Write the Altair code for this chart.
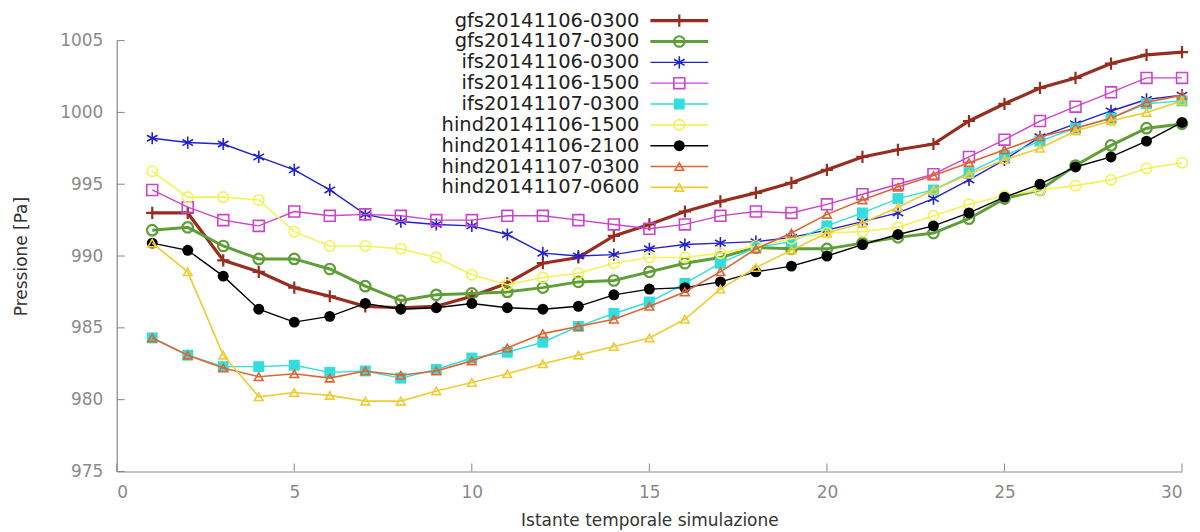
import altair as alt
import pandas as pd

# ---------------- data ----------------
steps = list(range(1, 31))

names = [
    "gfs20141106-0300", "gfs20141107-0300", "ifs20141106-0300",
    "ifs20141106-1500", "ifs20141107-0300", "hind20141106-1500",
    "hind20141106-2100", "hind20141107-0300", "hind20141107-0600",
]

gfs_1106_0300 = [993.0, 993.0, 989.7, 988.9, 987.8, 987.2, 986.5, 986.4, 986.5, 987.2,
                 988.1, 989.5, 989.9, 991.4, 992.2, 993.1, 993.8, 994.4, 995.1, 996.0,
                 996.9, 997.4, 997.8, 999.4, 1000.6, 1001.7, 1002.4, 1003.4, 1004.0, 1004.2]
gfs_1107_0300 = [991.8, 992.0, 990.7, 989.8, 989.8, 989.1, 987.9, 986.9, 987.3, 987.4,
                 987.5, 987.8, 988.2, 988.3, 988.9, 989.5, 989.9, 990.6, 990.5, 990.5,
                 990.9, 991.3, 991.6, 992.6, 994.0, 994.6, 996.3, 997.7, 998.9, 999.2]
ifs_1106_0300 = [998.2, 997.9, 997.8, 996.9, 996.0, 994.6, 992.9, 992.4, 992.2, 992.1,
                 991.5, 990.2, 990.0, 990.1, 990.5, 990.8, 990.9, 991.0, 991.3, 991.8,
                 992.4, 993.0, 994.0, 995.3, 996.7, 998.3, 999.2, 1000.1, 1000.9, 1001.2]
ifs_1106_1500 = [994.6, 993.4, 992.5, 992.1, 993.1, 992.8, 992.9, 992.8, 992.5, 992.5,
                 992.8, 992.8, 992.5, 992.2, 991.9, 992.2, 992.8, 993.1, 993.0, 993.6,
                 994.3, 995.0, 995.7, 996.9, 998.1, 999.4, 1000.4, 1001.4, 1002.4, 1002.4]
ifs_1107_0300 = [984.3, 983.1, 982.3, 982.3, 982.4, 981.9, 982.0, 981.5, 982.1, 982.9,
                 983.3, 984.0, 985.1, 986.0, 986.8, 988.1, 989.5, 990.6, 991.0, 992.1,
                 993.0, 994.0, 994.6, 995.8, 997.0, 998.0, 998.9, 999.6, 1000.6, 1000.8]
hind_1106_1500 = [995.9, 994.1, 994.1, 993.9, 991.7, 990.7, 990.7, 990.5, 989.9, 988.7,
                  988.0, 988.5, 988.8, 989.5, 989.9, 989.9, 990.2, 990.7, 991.2, 991.6,
                  991.7, 992.0, 992.8, 993.6, 994.2, 994.6, 994.9, 995.3, 996.1, 996.5]
hind_1106_2100 = [990.9, 990.4, 988.6, 986.3, 985.4, 985.8, 986.7, 986.3, 986.4, 986.7,
                  986.4, 986.3, 986.5, 987.3, 987.7, 987.8, 988.2, 988.9, 989.3, 990.0,
                  990.8, 991.5, 992.1, 993.0, 994.1, 995.0, 996.2, 996.9, 998.0, 999.3]
hind_1107_0300 = [984.3, 983.1, 982.2, 981.6, 981.8, 981.5, 982.0, 981.7, 982.0, 982.7,
                  983.6, 984.6, 985.1, 985.6, 986.5, 987.5, 988.9, 990.5, 991.6, 992.9,
                  993.9, 994.8, 995.6, 996.5, 997.4, 998.3, 998.9, 999.6, 1000.7, 1001.2]
hind_1107_0600 = [990.9, 988.9, 983.1, 980.2, 980.5, 980.3, 979.9, 979.9, 980.6, 981.2,
                  981.8, 982.5, 983.1, 983.7, 984.3, 985.6, 987.7, 989.2, 990.4, 991.6,
                  992.3, 993.4, 994.6, 995.7, 996.7, 997.5, 998.7, 999.4, 1000.0, 1000.8]

series_values = [gfs_1106_0300, gfs_1107_0300, ifs_1106_0300, ifs_1106_1500, ifs_1107_0300,
                 hind_1106_1500, hind_1106_2100, hind_1107_0300, hind_1107_0600]

x_ticks = [0, 5, 10, 15, 20, 25, 30]
y_ticks = [975, 980, 985, 990, 995, 1000, 1005]

# ---------------- styles ----------------
PLUS = "M-1,0L1,0M0,-1L0,1"
STAR = "M0,-1L0,1M-0.866,-0.5L0.866,0.5M-0.866,0.5L0.866,-0.5"
colors = ["#962d1f", "#5e9e37", "#2222cc", "#cc44cc", "#33dddd",
          "#f2f25a", "#000000", "#dd6633", "#eecc33"]
shapes = [PLUS, "circle", STAR, "square", "square", "circle", "circle",
          "triangle-up", "triangle-up"]
filled = [False, False, False, False, True, False, True, False, False]
sizes = [150, 110, 150, 120, 120, 110, 120, 75, 75]
line_w = [3.2, 3.0, 1.4, 1.4, 1.4, 1.6, 1.4, 1.6, 1.6]
pt_w = [2.2, 2.2, 1.6, 1.6, 1.6, 1.6, 1.6, 1.6, 1.6]

W, H = 1068, 432
FONT = "DejaVu Sans"

x_scale = alt.Scale(domain=[0, 30], nice=False, zero=False)
y_scale = alt.Scale(domain=[975, 1005], nice=False, zero=False)

x_axis = alt.Axis(values=x_ticks, format="d", ticks=False, tickSize=0, grid=False,
                  labelPadding=13, labelFontSize=17, labelColor="#8a8a8a", labelFont=FONT,
                  domainColor="#888888", domainWidth=1.2,
                  title="Istante temporale simulazione", titleFont=FONT, titleFontSize=17,
                  titleFontWeight="normal", titleColor="#333333",
                  titleX=W / 2, titleY=41, titleBaseline="top")
y_axis = alt.Axis(values=y_ticks, format="d", ticks=False, tickSize=0, grid=False,
                  labelPadding=14, labelFontSize=17, labelColor="#8a8a8a", labelFont=FONT,
                  domainColor="#888888", domainWidth=1.2,
                  title="Pressione [Pa]", titleFont=FONT, titleFontSize=17,
                  titleFontWeight="normal", titleColor="#333333",
                  titleX=-90, titleY=H / 2, titleAngle=-90, titleAlign="center",
                  titleBaseline="alphabetic")

X = lambda f: alt.X(f, scale=x_scale, axis=x_axis)
Y = lambda f: alt.Y(f, scale=y_scale, axis=y_axis)

layers = []

for i, name in enumerate(names):
    d = pd.DataFrame({"t": steps, "p": series_values[i], "series": name})
    base = alt.Chart(d).encode(x=X("t:Q"), y=Y("p:Q"))
    layers.append(base.mark_line(color=colors[i], strokeWidth=line_w[i]))
    layers.append(base.mark_point(shape=shapes[i], filled=filled[i], size=sizes[i],
                                  color=colors[i], strokeWidth=pt_w[i], opacity=1))

# inward ticks
xt = pd.DataFrame({"v": x_ticks})
yt = pd.DataFrame({"v": y_ticks})
layers.append(alt.Chart(xt).mark_rule(color="#888888", strokeWidth=1).encode(
    x=X("v:Q"), y=alt.value(H), y2=alt.value(H - 8)))
layers.append(alt.Chart(yt).mark_rule(color="#888888", strokeWidth=1).encode(
    y=Y("v:Q"), x=alt.value(0), x2=alt.value(8)))

# legend (gnuplot style, top centre, label left of sample)
LEG_TOP = -20
LEG_STEP = 20.9
for i, name in enumerate(names):
    ld = pd.DataFrame({"series": [name]})
    yy = LEG_TOP + i * LEG_STEP
    layers.append(alt.Chart(ld).mark_rule(color=colors[i], strokeWidth=line_w[i]).encode(
        x=alt.value(535), x2=alt.value(593), y=alt.value(yy)))
    layers.append(alt.Chart(ld).mark_point(shape=shapes[i], filled=filled[i], size=sizes[i],
                                           color=colors[i], strokeWidth=pt_w[i], opacity=1).encode(
        x=alt.value(564), y=alt.value(yy)))
    layers.append(alt.Chart(ld).mark_text(align="right", baseline="middle", font=FONT,
                                          fontSize=19.5, color="#222222").encode(
        x=alt.value(524), y=alt.value(yy), text="series:N"))

chart = alt.layer(*layers).properties(
    width=W, height=H,
    autosize=alt.AutoSizeParams(type="none"),
    padding={"left": 109, "top": 32, "right": 10, "bottom": 60},
).configure_view(stroke=None)

chart.save("out.html", embed_options={"renderer": "svg", "actions": False})
